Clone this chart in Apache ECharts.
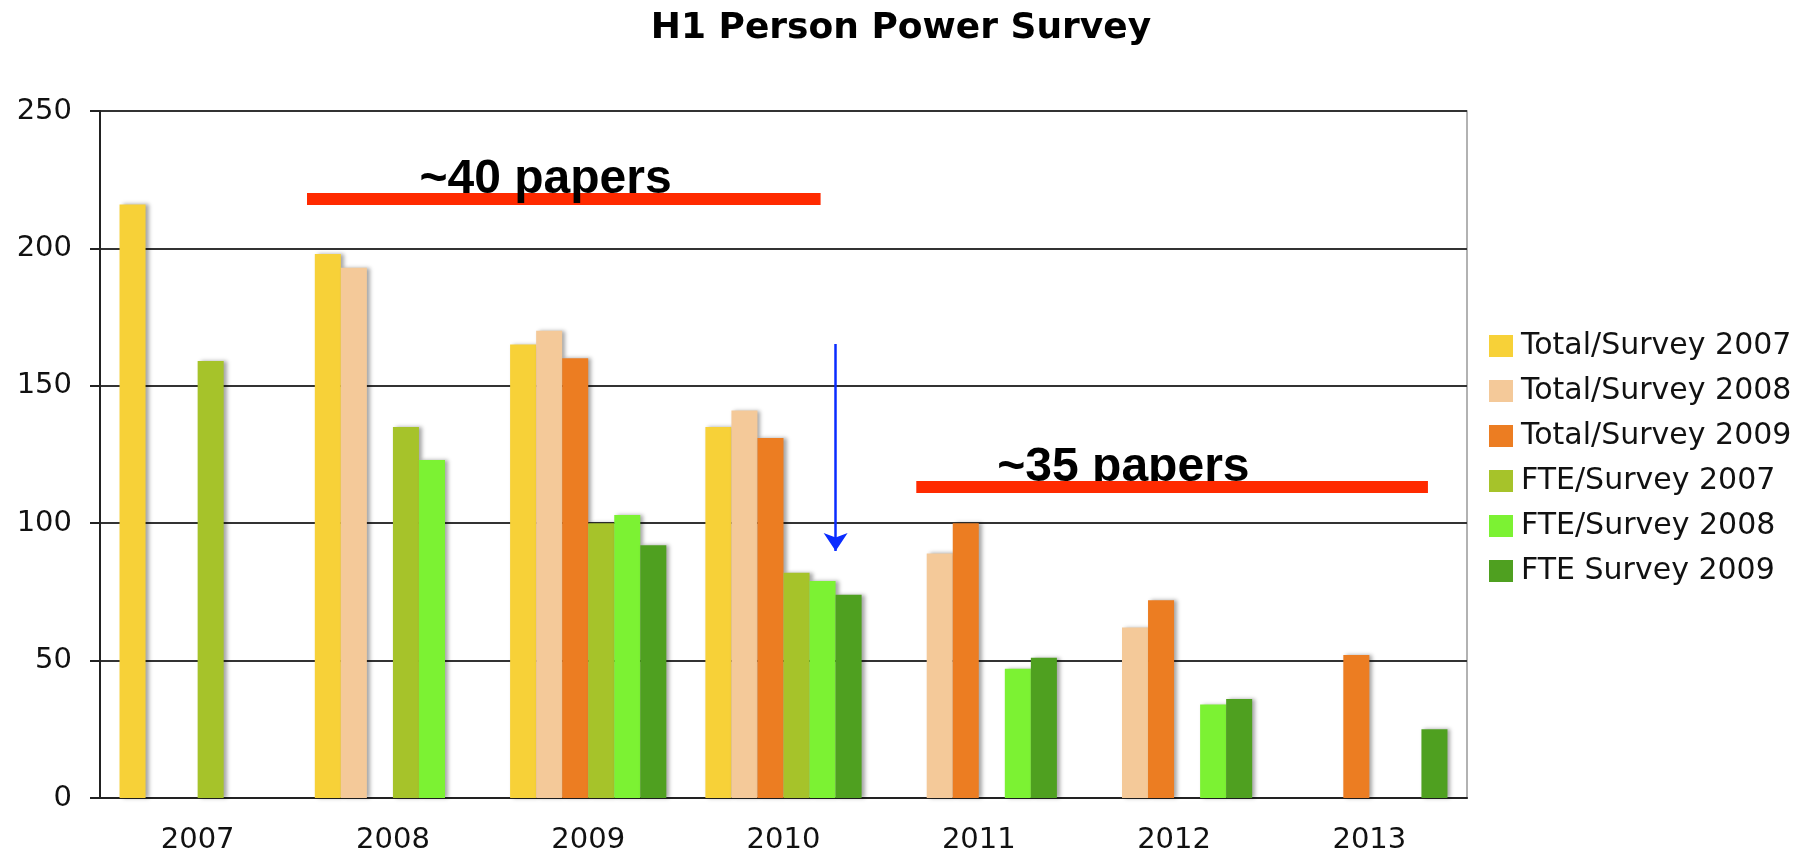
<!DOCTYPE html>
<html lang="en">
<head>
    <meta charset="UTF-8">
    <title>H1 Person Power Survey</title>
    <script src="https://cdn.jsdelivr.net/npm/echarts/dist/echarts.min.js"></script>
    <style>
        html, body { margin: 0; padding: 0; background: #fff; }
        #chart { width: 1814px; height: 858px; }
    </style>
</head>
<body>
    <div id="chart"></div>

    <script>
        // categories and series values (persons / FTE per year)
        var years = ['2007', '2008', '2009', '2010', '2011', '2012', '2013'];
        var total2007 = [216, 198, 165, 135, null, null, null];
        var total2008 = [null, 193, 170, 141, 89, 62, null];
        var total2009 = [null, null, 160, 131, 100, 72, 52];
        var fte2007 = [159, 135, 100, 82, null, null, null];
        var fte2008 = [null, 123, 103, 79, 47, 34, null];
        var fte2009 = [null, null, 92, 74, 51, 36, 25];
        var yTicks = [0, 50, 100, 150, 200, 250];

        // overlay annotations, in axis units (x: category index 0..7, y: value)
        var band40 = [[1.06, 218.2], [3.69, 218.2]];
        var band35 = [[4.18, 113.2], [6.80, 113.2]];
        var arrow = [[3.767, 165.2], [3.767, 89.9]];
        var notes = [
            { name: '~40 papers', value: [1.636, 224.8] },
            { name: '~35 papers', value: [4.595, 120.2] }
        ];

        var chart = echarts.init(document.getElementById('chart'));
        var labelFont = 'DejaVu Sans, Verdana, sans-serif';

        function barSeries(name, data, color) {
            return {
                name: name,
                type: 'bar',
                data: data,
                barGap: 0,
                barCategoryGap: '20%',
                itemStyle: {
                    color: color,
                    shadowColor: 'rgba(0,0,0,0.35)',
                    shadowBlur: 4,
                    shadowOffsetX: 3,
                    shadowOffsetY: 0
                }
            };
        }

        var options = {
            animation: false,
            title: {
                text: 'H1 Person Power Survey',
                left: 896,
                textAlign: 'center',
                top: 6,
                textStyle: {
                    fontFamily: labelFont,
                    fontSize: 36,
                    fontWeight: 'bold',
                    color: '#000'
                }
            },
            legend: {
                orient: 'vertical',
                left: 1489,
                top: 331,
                padding: 0,
                itemWidth: 24,
                itemHeight: 22,
                itemGap: 15,
                icon: 'rect',
                data: ['Total/Survey 2007', 'Total/Survey 2008', 'Total/Survey 2009',
                       'FTE/Survey 2007', 'FTE/Survey 2008', 'FTE Survey 2009'],
                textStyle: {
                    fontFamily: labelFont,
                    fontSize: 30,
                    lineHeight: 29,
                    color: '#111',
                    padding: [0, 0, 0, 3]
                }
            },
            grid: {
                left: 100,
                right: 347,
                top: 111,
                bottom: 60,
                show: true,
                borderColor: '#999',
                borderWidth: 1.5
            },
            xAxis: [
                {
                    type: 'category',
                    data: years,
                    axisLine: { lineStyle: { color: '#222', width: 2 } },
                    axisTick: { length: 11, lineStyle: { color: '#222', width: 2 } },
                    axisLabel: {
                        fontFamily: labelFont,
                        fontSize: 29,
                        color: '#111',
                        margin: 28
                    }
                },
                {
                    type: 'value',
                    min: 0,
                    max: years.length,
                    show: false
                }
            ],
            yAxis: {
                type: 'value',
                min: yTicks[0],
                max: yTicks[yTicks.length - 1],
                interval: yTicks[1] - yTicks[0],
                axisLine: { show: true, lineStyle: { color: '#222', width: 2 } },
                axisTick: { show: true, length: 10, lineStyle: { color: '#222', width: 2 } },
                axisLabel: {
                    fontFamily: labelFont,
                    fontSize: 29,
                    color: '#111',
                    margin: 28
                },
                splitLine: { lineStyle: { color: '#333', width: 2 } }
            },
            series: [
                barSeries('Total/Survey 2007', total2007, '#f7d138'),
                barSeries('Total/Survey 2008', total2008, '#f4c999'),
                barSeries('Total/Survey 2009', total2009, '#ec7d22'),
                barSeries('FTE/Survey 2007', fte2007, '#a6c32a'),
                barSeries('FTE/Survey 2008', fte2008, '#7cf233'),
                barSeries('FTE Survey 2009', fte2009, '#4fa020'),
                {
                    type: 'lines',
                    coordinateSystem: 'cartesian2d',
                    xAxisIndex: 1,
                    yAxisIndex: 0,
                    silent: true,
                    z: 5,
                    lineStyle: { color: '#ff2a00', width: 12, opacity: 1, cap: 'butt' },
                    data: [{ coords: band40 }]
                },
                {
                    type: 'scatter',
                    xAxisIndex: 1,
                    yAxisIndex: 0,
                    silent: true,
                    symbolSize: 0,
                    z: 6,
                    itemStyle: { opacity: 1 },
                    data: notes,
                    label: {
                        show: true,
                        position: 'right',
                        distance: 0,
                        formatter: '{b}',
                        fontFamily: 'Liberation Sans, Arial, sans-serif',
                        fontWeight: 'bold',
                        fontSize: 48,
                        color: '#000',
                        opacity: 1,
                        textBorderWidth: 0
                    }
                },
                {
                    type: 'lines',
                    coordinateSystem: 'cartesian2d',
                    xAxisIndex: 1,
                    yAxisIndex: 0,
                    silent: true,
                    z: 7,
                    lineStyle: { color: '#ff2a00', width: 12, opacity: 1, cap: 'butt' },
                    data: [{ coords: band35 }]
                },
                {
                    type: 'lines',
                    coordinateSystem: 'cartesian2d',
                    xAxisIndex: 1,
                    yAxisIndex: 0,
                    silent: true,
                    z: 7,
                    symbol: ['none', 'arrow'],
                    symbolSize: [16, 18],
                    lineStyle: { color: '#0a2cff', width: 2.5, opacity: 1 },
                    data: [{ coords: arrow }]
                }
            ]
        };

        chart.setOption(options);
    </script>
</body>
</html>
